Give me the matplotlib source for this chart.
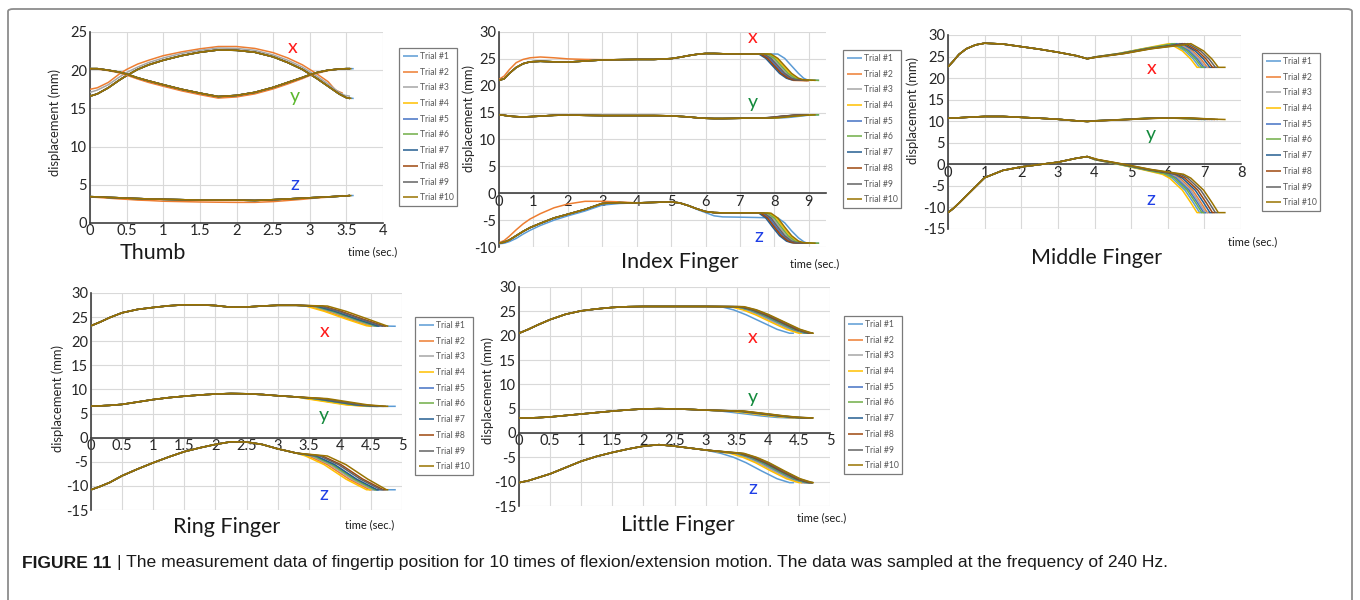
import matplotlib
matplotlib.use('Agg')
import matplotlib.pyplot as plt
from matplotlib.patches import FancyBboxPatch
from matplotlib.ticker import FuncFormatter

# ---- data (time in s, displacement in mm) ----
TRIALS = ['Trial #%d' % i for i in range(1, 11)]
TRIAL_COLORS = ['#5B9BD5', '#ED7D31', '#A5A5A5', '#FFC000', '#4472C4',
                '#70AD47', '#255E91', '#9E480E', '#636363', '#997300']

# Thumb
THUMB_HEAD_T = [0, 0.1, 0.25, 0.4, 0.5, 0.65, 0.8, 1.0, 1.25, 1.5, 1.75,
                2.0, 2.25, 2.5, 2.7, 2.9, 3.0, 3.1, 3.25]
THUMB_TAIL_T = [[3.4, 3.5, 3.6], [3.35, 3.42, 3.45], [3.4, 3.48, 3.55],
                [3.4, 3.5, 3.55], [3.4, 3.5, 3.55], [3.4, 3.5, 3.55],
                [3.4, 3.5, 3.55], [3.4, 3.5, 3.55], [3.4, 3.5, 3.55],
                [3.4, 3.5, 3.57]]
THUMB_X = [16.6, 16.9, 17.7, 18.7, 19.3, 20.1, 20.7, 21.3, 21.9, 22.35, 22.65,
           22.6, 22.35, 21.75, 21.0, 20.1, 19.5, 18.9, 17.9, 16.9, 16.4, 16.3]
THUMB_Y = [20.2, 20.2, 20.0, 19.75, 19.5, 19.0, 18.6, 18.1, 17.5, 17.0, 16.55,
           16.7, 17.1, 17.75, 18.4, 19.05, 19.4, 19.7, 20.0, 20.15, 20.2, 20.2]
THUMB_Z = [3.45, 3.42, 3.35, 3.3, 3.25, 3.2, 3.15, 3.1, 3.05, 3.0, 3.0,
           3.0, 2.95, 3.05, 3.15, 3.25, 3.3, 3.35, 3.42, 3.5, 3.55, 3.6]
THUMB_X_T2 = [17.5, 17.7, 18.4, 19.5, 20.1, 20.8, 21.3, 21.9, 22.4, 22.8, 23.1,
              23.1, 22.85, 22.3, 21.6, 20.7, 20.1, 19.5, 18.5, 17.4, 17.1, 17.0]
THUMB_X_T3 = [17.1, 17.4, 18.1, 19.1, 19.7, 20.4, 21.0, 21.6, 22.2, 22.6, 22.9,
              22.85, 22.6, 22.0, 21.3, 20.4, 19.8, 19.2, 18.2, 17.1, 16.7, 16.6]
THUMB_Y_T2 = [20.2, 20.15, 19.95, 19.65, 19.35, 18.85, 18.4, 17.9, 17.3, 16.8, 16.35,
              16.5, 16.9, 17.55, 18.2, 18.9, 19.3, 19.6, 19.95, 20.1, 20.15, 20.15]
THUMB_Z_T2 = [3.4, 3.35, 3.25, 3.15, 3.1, 3.0, 2.95, 2.85, 2.8, 2.75, 2.72,
              2.7, 2.7, 2.8, 2.95, 3.1, 3.2, 3.28, 3.38, 3.48, 3.55, 3.58]

# Index finger
INDEX_HEAD_T = [0, 0.15, 0.3, 0.5, 0.7, 0.9, 1.2, 1.6, 2.0, 2.5, 3.0, 3.5, 4.0,
                4.5, 5.0, 5.25, 5.5, 5.75, 6.0, 6.25, 6.5, 7.0, 7.4]
INDEX_TAIL_T = [[8.1, 8.3, 8.5, 8.7, 8.85, 8.95, 9.3],
                [7.6, 7.8, 8.0, 8.2, 8.4, 8.55, 9.0],
                [7.75, 7.95, 8.15, 8.35, 8.55, 8.7, 9.0],
                [7.85, 8.05, 8.25, 8.45, 8.65, 8.8, 9.1],
                [7.65, 7.85, 8.05, 8.25, 8.45, 8.6, 8.95],
                [7.8, 8.0, 8.2, 8.4, 8.6, 8.75, 9.3],
                [7.55, 7.75, 7.95, 8.15, 8.35, 8.5, 8.9],
                [7.6, 7.8, 8.0, 8.2, 8.4, 8.55, 8.95],
                [7.7, 7.9, 8.1, 8.3, 8.5, 8.65, 9.0],
                [7.9, 8.1, 8.3, 8.5, 8.7, 8.85, 9.2]]
INDEX_X = [21.0, 21.3, 22.3, 23.4, 24.1, 24.45, 24.55, 24.45, 24.4, 24.6, 24.8,
           24.85, 24.9, 24.9, 25.05, 25.3, 25.6, 25.85, 26.0, 26.0, 25.95, 25.9,
           25.9, 25.9, 25.1, 23.7, 22.3, 21.4, 21.1, 21.0]
INDEX_Y = [14.6, 14.5, 14.35, 14.25, 14.2, 14.25, 14.35, 14.5, 14.55, 14.5, 14.45,
           14.45, 14.45, 14.45, 14.4, 14.3, 14.2, 14.05, 13.95, 13.9, 13.9, 13.95,
           14.0, 14.0, 14.05, 14.15, 14.3, 14.4, 14.5, 14.6]
INDEX_Z = [-9.3, -9.1, -8.7, -7.9, -7.1, -6.4, -5.6, -4.6, -3.9, -3.0, -1.9,
           -1.75, -1.8, -1.7, -1.6, -1.8, -2.3, -2.9, -3.4, -3.6, -3.65, -3.65,
           -3.65, -3.7, -4.6, -6.3, -7.9, -8.9, -9.2, -9.3]
INDEX_X_T2 = [21.2, 21.8, 23.0, 24.3, 24.9, 25.2, 25.35, 25.2, 25.0, 24.9, 24.85,
              24.85, 24.9, 24.9, 25.05, 25.3, 25.6, 25.85, 26.0, 26.0, 25.95, 25.9,
              25.9, 25.9, 25.1, 23.7, 22.3, 21.4, 21.0, 20.9]
INDEX_Z_T1 = [-9.4, -9.3, -9.0, -8.4, -7.6, -6.9, -6.0, -5.0, -4.2, -3.3, -2.2,
              -1.9, -1.8, -1.7, -1.6, -1.8, -2.3, -3.0, -3.6, -4.2, -4.4, -4.45,
              -4.5, -4.6, -5.5, -7.0, -8.3, -9.0, -9.3, -9.3]
INDEX_Z_T2 = [-9.2, -8.8, -8.0, -6.8, -5.7, -4.8, -3.8, -2.7, -2.0, -1.5, -1.5,
              -1.6, -1.8, -1.7, -1.6, -1.8, -2.3, -2.9, -3.4, -3.6, -3.65, -3.65,
              -3.65, -3.7, -4.6, -6.3, -7.9, -8.9, -9.2, -9.3]

# Middle finger
MIDDLE_HEAD_T = [0, 0.15, 0.3, 0.5, 0.75, 1.0, 1.5, 2.0, 2.5, 3.0, 3.5, 3.8]
MIDDLE_TAIL_T = [[4.0, 4.67, 5.33, 5.92, 6.12, 6.47, 6.7, 6.87, 6.94],
                 [4.04, 4.73, 5.42, 6.13, 6.33, 6.68, 6.91, 7.08, 7.15],
                 [4.03, 4.72, 5.4, 6.08, 6.28, 6.63, 6.86, 7.03, 7.1],
                 [4.0, 4.65, 5.3, 5.85, 6.05, 6.4, 6.63, 6.8, 6.87],
                 [4.02, 4.7, 5.38, 6.03, 6.23, 6.58, 6.81, 6.98, 7.05],
                 [4.02, 4.68, 5.36, 5.98, 6.18, 6.53, 6.76, 6.93, 7.0],
                 [4.05, 4.75, 5.45, 6.2, 6.4, 6.75, 6.98, 7.15, 7.22],
                 [4.06, 4.77, 5.48, 6.27, 6.47, 6.82, 7.05, 7.22, 7.29],
                 [4.08, 4.8, 5.52, 6.35, 6.55, 6.9, 7.13, 7.3, 7.37],
                 [4.1, 4.82, 5.55, 6.43, 6.63, 6.98, 7.21, 7.38, 7.58]]
MIDDLE_X = [22.6, 24.0, 25.5, 26.8, 27.7, 28.1, 27.9, 27.3, 26.7, 26.0, 25.2, 24.5,
            24.9, 25.7, 26.8, 27.7, 28.0, 26.3, 24.4, 22.5, 22.5]
MIDDLE_Y = [10.7, 10.75, 10.8, 10.9, 11.0, 11.1, 11.1, 10.9, 10.7, 10.45, 10.1, 9.95,
            10.1, 10.35, 10.65, 10.8, 10.75, 10.6, 10.5, 10.45, 10.4]
MIDDLE_Z = [-11.2, -10.2, -9.0, -7.3, -5.2, -3.1, -1.4, -0.6, -0.05, 0.5, 1.4, 1.8,
            1.1, 0.0, -1.2, -2.3, -3.2, -6.0, -8.9, -11.2, -11.2]

# Ring finger
RING_HEAD_T = [0, 0.15, 0.3, 0.5, 0.75, 1.0, 1.25, 1.5, 1.75, 2.0, 2.25, 2.5,
               2.75, 3.0, 3.3]
RING_TAIL_T = [[3.55, 3.85, 4.2, 4.53, 4.9],
               [3.5, 3.8, 4.15, 4.48, 4.52],
               [3.55, 3.85, 4.2, 4.53, 4.57],
               [3.45, 3.75, 4.1, 4.43, 4.5],
               [3.6, 3.9, 4.25, 4.58, 4.62],
               [3.58, 3.88, 4.23, 4.56, 4.6],
               [3.62, 3.92, 4.27, 4.6, 4.64],
               [3.72, 4.02, 4.37, 4.7, 4.74],
               [3.68, 3.98, 4.33, 4.66, 4.7],
               [3.8, 4.1, 4.45, 4.75, 4.78]]
RING_X = [23.2, 24.0, 24.9, 25.9, 26.6, 27.0, 27.35, 27.55, 27.55, 27.4, 27.05,
          27.1, 27.3, 27.45, 27.45, 27.3, 26.2, 24.6, 23.2, 23.1]
RING_Y = [6.55, 6.6, 6.7, 6.9, 7.4, 7.9, 8.3, 8.6, 8.85, 9.05, 9.15, 9.1, 8.95,
          8.7, 8.45, 8.1, 7.5, 6.8, 6.5, 6.5]
RING_Z = [-10.8, -10.1, -9.3, -7.9, -6.5, -5.2, -4.0, -2.9, -2.1, -1.4, -0.85,
          -0.9, -1.4, -2.3, -3.2, -3.8, -5.6, -8.6, -10.8, -10.8]

# Little finger
LITTLE_HEAD_T = [0, 0.15, 0.3, 0.5, 0.75, 1.0, 1.25, 1.5, 1.75, 2.0, 2.25, 2.5,
                 2.75, 3.0]
LITTLE_TAIL_T = [[3.25, 3.45, 3.65, 3.9, 4.15, 4.35, 4.42],
                 [3.45, 3.65, 3.85, 4.1, 4.35, 4.55, 4.6],
                 [3.45, 3.65, 3.85, 4.1, 4.35, 4.55, 4.72],
                 [3.4, 3.6, 3.8, 4.05, 4.3, 4.5, 4.55],
                 [3.5, 3.7, 3.9, 4.15, 4.4, 4.6, 4.72],
                 [3.52, 3.72, 3.92, 4.17, 4.42, 4.62, 4.72],
                 [3.55, 3.75, 3.95, 4.2, 4.45, 4.65, 4.72],
                 [3.57, 3.77, 3.97, 4.22, 4.47, 4.67, 4.72],
                 [3.6, 3.8, 4.0, 4.25, 4.5, 4.7, 4.73],
                 [3.62, 3.82, 4.02, 4.27, 4.52, 4.72, 4.74]]
LITTLE_X = [20.5, 21.3, 22.2, 23.3, 24.4, 25.1, 25.5, 25.8, 25.95, 26.0, 26.0,
            26.0, 26.0, 26.0, 25.95, 25.3, 24.3, 22.8, 21.3, 20.5, 20.5]
LITTLE_Y = [3.1, 3.1, 3.15, 3.3, 3.6, 3.9, 4.2, 4.5, 4.75, 4.95, 5.0, 4.95, 4.85,
            4.7, 4.5, 4.2, 3.9, 3.5, 3.2, 3.1, 3.1]
LITTLE_Z = [-10.2, -9.8, -9.2, -8.4, -7.1, -5.8, -4.8, -4.0, -3.3, -2.7, -2.4,
            -2.7, -3.1, -3.5, -4.2, -5.0, -6.1, -7.8, -9.4, -10.2, -10.2]

CAPTION_HEAD = 'FIGURE 11'
CAPTION_BODY = ('| The measurement data of fingertip position for 10 times of '
                'flexion/extension motion. The data was sampled at the frequency of 240 Hz.')

# ---- drawing ----
W, H = 1360, 600
FONT = 'Lato'
AXIS_GRAY = '#404040'

plt.rcParams['font.family'] = [FONT, 'DejaVu Sans']

fig = plt.figure(figsize=(W / 100, H / 100), dpi=100)
fig.patch.set_facecolor('white')

# outer frame; it runs off the bottom edge like the original
fig.patches.append(FancyBboxPatch(
    (8 / W, -20 / H), 1344 / W, 611 / H, boxstyle='round,pad=0,rounding_size=0.004',
    transform=fig.transFigure, facecolor='none', edgecolor='#8c8c8c', linewidth=1.3))


def fmt(v, _):
    return '%g' % v


def fx(px):
    return px / W


def fy(py):
    return 1 - py / H


def draw_panel(box, head_t, tail_t, comps, xlim, xticks, ylim, yticks,
               labels, title, time_pos, ylabel_pos, legend_pos):
    left, top, right, bottom = box
    ax = fig.add_axes([fx(left), fy(bottom), (right - left) / W, (bottom - top) / H])
    for values, overrides in comps:
        for i in range(10):
            t = head_t + tail_t[i]
            v = overrides.get(i, values)
            ax.plot(t, v, color=TRIAL_COLORS[i], lw=1.1, label=TRIALS[i],
                    solid_capstyle='butt', zorder=3)
    ax.set_xlim(*xlim)
    ax.set_ylim(*ylim)
    ax.set_xticks(xticks)
    ax.set_yticks(yticks)
    ax.xaxis.set_major_formatter(FuncFormatter(fmt))
    ax.yaxis.set_major_formatter(FuncFormatter(fmt))
    ax.grid(True, color='#d9d9d9', lw=0.8, zorder=0)
    ax.set_axisbelow(True)
    for s in ('top', 'right'):
        ax.spines[s].set_visible(False)
    ax.spines['bottom'].set_position(('data', 0))
    ax.spines['bottom'].set_color(AXIS_GRAY)
    ax.spines['bottom'].set_linewidth(1.2)
    ax.spines['bottom'].set_zorder(2)
    ax.spines['left'].set_color(AXIS_GRAY)
    ax.spines['left'].set_linewidth(1.2)
    ax.tick_params(length=0, labelsize=10.5, labelcolor='#262626')
    ax.tick_params(axis='x', pad=1)
    ax.tick_params(axis='y', pad=2)

    for (text, color), (tx, ty) in labels:
        ax.text(tx, ty, text, color=color, fontsize=14, ha='center', va='center')

    fig.text(fx(title[1]), fy(title[2]), title[0], fontsize=15.5,
             ha='center', va='center', color='#1a1a1a')
    fig.text(fx(time_pos[0]), fy(time_pos[1]), 'time (sec.)', fontsize=8,
             ha='center', va='center', color='#1a1a1a')
    fig.text(fx(ylabel_pos[0]), fy(ylabel_pos[1]), 'displacement (mm)',
             fontsize=9.4, rotation=90, ha='center', va='center', color='#262626')

    handles = ax.get_lines()[:10]
    leg = fig.legend(handles, TRIALS, loc='upper left',
                     bbox_to_anchor=(fx(legend_pos[0]), fy(legend_pos[1])),
                     fontsize=6.2, frameon=True, fancybox=False, borderpad=0.45,
                     handlelength=1.8, handletextpad=0.15, labelspacing=0.78,
                     borderaxespad=0)
    leg.get_frame().set_edgecolor('#595959')
    leg.get_frame().set_linewidth(0.9)
    for txt in leg.get_texts():
        txt.set_color('#595959')
    return ax


RED, BLUE = '#ff1a1a', '#1f3fe6'
GREEN_LIGHT, GREEN_DARK = '#5cb82e', '#138a3c'

draw_panel((90, 32, 383, 223), THUMB_HEAD_T, THUMB_TAIL_T,
           [(THUMB_X, {1: THUMB_X_T2, 2: THUMB_X_T3}),
            (THUMB_Y, {1: THUMB_Y_T2}),
            (THUMB_Z, {1: THUMB_Z_T2})],
           (0, 4), [0, 0.5, 1, 1.5, 2, 2.5, 3, 3.5, 4], (0, 25), range(0, 26, 5),
           [(('x', RED), (2.77, 23.0)), (('y', GREEN_LIGHT), (2.8, 16.6)),
            (('z', BLUE), (2.8, 5.1))],
           ('Thumb', 153, 253), (373, 252), (55, 123), (399, 48))

draw_panel((499, 32, 826, 247), INDEX_HEAD_T, INDEX_TAIL_T,
           [(INDEX_X, {1: INDEX_X_T2}),
            (INDEX_Y, {}),
            (INDEX_Z, {0: INDEX_Z_T1, 1: INDEX_Z_T2})],
           (0, 9.5), range(0, 10), (-10, 30), range(-10, 31, 5),
           [(('x', RED), (7.38, 28.9)), (('y', GREEN_DARK), (7.38, 16.8)),
            (('z', BLUE), (7.55, -8.0))],
           ('Index Finger', 680, 262), (815, 264), (469, 118), (843, 50))

draw_panel((948, 35, 1241, 229), MIDDLE_HEAD_T, MIDDLE_TAIL_T,
           [(MIDDLE_X, {}), (MIDDLE_Y, {}), (MIDDLE_Z, {})],
           (0, 8), range(0, 9), (-15, 30), range(-15, 31, 5),
           [(('x', RED), (5.55, 22.3)), (('y', GREEN_DARK), (5.55, 7.0)),
            (('z', BLUE), (5.55, -8.05))],
           ('Middle Finger', 1097, 258), (1253, 242), (913, 110), (1262, 53))

draw_panel((91, 293, 402, 510), RING_HEAD_T, RING_TAIL_T,
           [(RING_X, {}), (RING_Y, {}), (RING_Z, {})],
           (0, 5), [0, 0.5, 1, 1.5, 2, 2.5, 3, 3.5, 4, 4.5, 5], (-15, 30),
           range(-15, 31, 5),
           [(('x', RED), (3.75, 22.1)), (('y', GREEN_DARK), (3.75, 4.5)),
            (('z', BLUE), (3.75, -11.7))],
           ('Ring Finger', 227, 527), (370, 525), (58, 399), (415, 317))

draw_panel((519, 287, 830, 506), LITTLE_HEAD_T, LITTLE_TAIL_T,
           [(LITTLE_X, {}), (LITTLE_Y, {}), (LITTLE_Z, {})],
           (0, 5), [0, 0.5, 1, 1.5, 2, 2.5, 3, 3.5, 4, 4.5, 5], (-15, 30),
           range(-15, 31, 5),
           [(('x', RED), (3.76, 19.7)), (('y', GREEN_DARK), (3.76, 7.2)),
            (('z', BLUE), (3.76, -11.5))],
           ('Little Finger', 678, 525), (822, 518), (488, 390), (844, 316))

# caption
cap_family = ['Liberation Sans', 'DejaVu Sans']
head = fig.text(fx(22), fy(563), CAPTION_HEAD, fontsize=12.6, fontweight='bold',
                family=cap_family, va='center', ha='left', color='#1a1a1a')
renderer = fig.canvas.get_renderer()
bb = head.get_window_extent(renderer)
fig.text(bb.x1 / W + fx(6), fy(563), CAPTION_BODY, fontsize=12.6,
         family=cap_family, va='center', ha='left', color='#1a1a1a')

fig.savefig('out.png', dpi=100, facecolor='white')
